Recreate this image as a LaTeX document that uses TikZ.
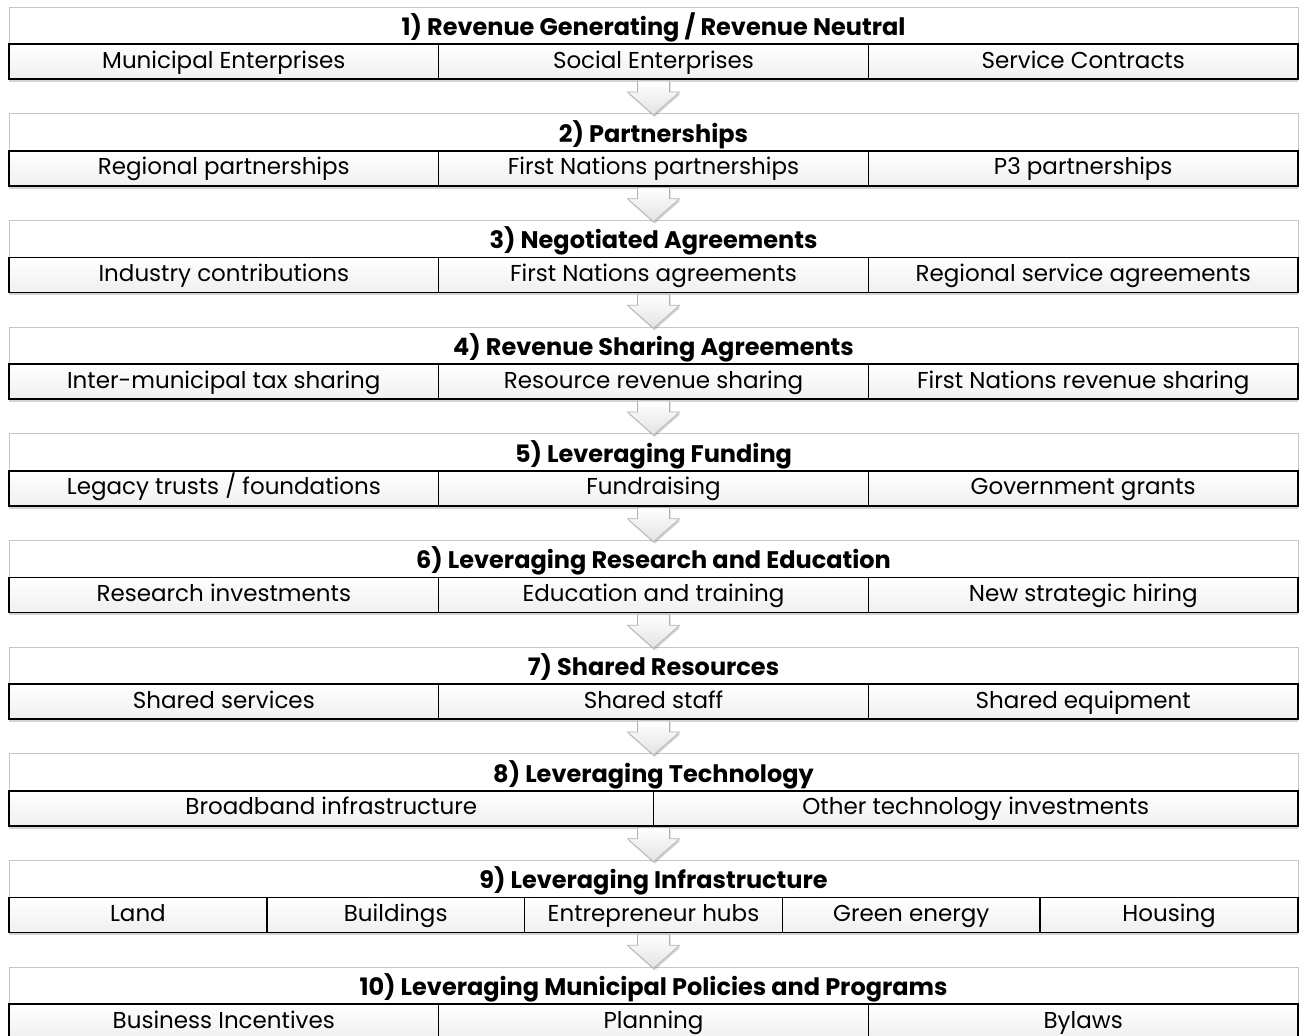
\documentclass[tikz,border=0pt]{standalone}
\usepackage{fontspec}
\setmainfont{Poppins}
\usetikzlibrary{shadows}

\begin{document}
\begin{tikzpicture}[x=1pt,y=-1pt,
  head/.style={rectangle, draw=gray!45, line width=0.8pt, fill=white,
    minimum width=1289pt, minimum height=37pt, inner sep=0pt,
    text height=21pt, text depth=1pt,
    font=\fontsize{24}{28}\selectfont\bfseries},
  part/.style={rectangle, draw=black, line width=1.6pt, top color=white,
    bottom color=gray!12, minimum height=35pt, inner sep=0pt,
    text height=16.5pt, text depth=3.5pt,
    drop shadow={shadow xshift=0pt, shadow yshift=-3pt, opacity=0.35},
    font=\fontsize{23}{27}\selectfont},
  third/.style={part, minimum width=429.7pt},
  half/.style={part, minimum width=644.5pt},
  fifth/.style={part, minimum width=257.8pt},
  blockarrow/.style={draw=gray!60, line width=0.7pt, top color=white,
    bottom color=gray!22,
    drop shadow={shadow xshift=1pt, shadow yshift=-2pt, opacity=0.35}}]

 \useasboundingbox (0,0) rectangle (1299,1036);

 % headers
 \node[head] (h1)  at (653.5,25.5)  {1) Revenue Generating / Revenue Neutral};
 \node[head] (h2)  at (653.5,132.2) {2) Partnerships};
 \node[head] (h3)  at (653.5,238.8) {3) Negotiated Agreements};
 \node[head] (h4)  at (653.5,345.5) {4) Revenue Sharing Agreements};
 \node[head] (h5)  at (653.5,452.2) {5) Leveraging Funding};
 \node[head] (h6)  at (653.5,558.8) {6) Leveraging Research and Education};
 \node[head] (h7)  at (653.5,665.5) {7) Shared Resources};
 \node[head] (h8)  at (653.5,772.2) {8) Leveraging Technology};
 \node[head] (h9)  at (653.5,878.8) {9) Leveraging Infrastructure};
 \node[head] (h10) at (653.5,985.5) {10) Leveraging Municipal Policies and Programs};

 % 1
 \node[third] (p1a) at (223.8,61.5)  {Municipal Enterprises};
 \node[third] (p1b) at (653.5,61.5)  {Social Enterprises};
 \node[third] (p1c) at (1083.2,61.5) {Service Contracts};
 % 2
 \node[third] (p2a) at (223.8,168.2)  {Regional partnerships};
 \node[third] (p2b) at (653.5,168.2)  {First Nations partnerships};
 \node[third] (p2c) at (1083.2,168.2) {P3 partnerships};
 % 3
 \node[third] (p3a) at (223.8,274.8)  {Industry contributions};
 \node[third] (p3b) at (653.5,274.8)  {First Nations agreements};
 \node[third] (p3c) at (1083.2,274.8) {Regional service agreements};
 % 4
 \node[third] (p4a) at (223.8,381.5)  {Inter-municipal tax sharing};
 \node[third] (p4b) at (653.5,381.5)  {Resource revenue sharing};
 \node[third] (p4c) at (1083.2,381.5) {First Nations revenue sharing};
 % 5
 \node[third] (p5a) at (223.8,488.2)  {Legacy trusts / foundations};
 \node[third] (p5b) at (653.5,488.2)  {Fundraising};
 \node[third] (p5c) at (1083.2,488.2) {Government grants};
 % 6
 \node[third] (p6a) at (223.8,594.8)  {Research investments};
 \node[third] (p6b) at (653.5,594.8)  {Education and training};
 \node[third] (p6c) at (1083.2,594.8) {New strategic hiring};
 % 7
 \node[third] (p7a) at (223.8,701.5)  {Shared services};
 \node[third] (p7b) at (653.5,701.5)  {Shared staff};
 \node[third] (p7c) at (1083.2,701.5) {Shared equipment};
 % 8
 \node[half] (p8a) at (331.3,808.2) {Broadband infrastructure};
 \node[half] (p8b) at (975.8,808.2) {Other technology investments};
 % 9
 \node[fifth] (p9a) at (137.9,914.8)  {Land};
 \node[fifth] (p9b) at (395.7,914.8)  {Buildings};
 \node[fifth] (p9c) at (653.5,914.8)  {Entrepreneur hubs};
 \node[fifth] (p9d) at (911.3,914.8)  {Green energy};
 \node[fifth] (p9e) at (1169.1,914.8) {Housing};
 % 10
 \node[third] (p10a) at (223.8,1021.5)  {Business Incentives};
 \node[third] (p10b) at (653.5,1021.5)  {Planning};
 \node[third] (p10c) at (1083.2,1021.5) {Bylaws};

 % arrows
 \coordinate (a1) at (653.5,81);
 \coordinate (a2) at (653.5,187.7);
 \coordinate (a3) at (653.5,294.3);
 \coordinate (a4) at (653.5,401);
 \coordinate (a5) at (653.5,507.7);
 \coordinate (a6) at (653.5,614.3);
 \coordinate (a7) at (653.5,721);
 \coordinate (a8) at (653.5,827.7);
 \coordinate (a9) at (653.5,934.3);

 \draw[blockarrow] (a1) ++(-16,0) -- ++(32,0) -- ++(0,11) -- ++(10,0) -- ++(-26,23) -- ++(-26,-23) -- ++(10,0) -- cycle;
 \draw[blockarrow] (a2) ++(-16,0) -- ++(32,0) -- ++(0,11) -- ++(10,0) -- ++(-26,23) -- ++(-26,-23) -- ++(10,0) -- cycle;
 \draw[blockarrow] (a3) ++(-16,0) -- ++(32,0) -- ++(0,11) -- ++(10,0) -- ++(-26,23) -- ++(-26,-23) -- ++(10,0) -- cycle;
 \draw[blockarrow] (a4) ++(-16,0) -- ++(32,0) -- ++(0,11) -- ++(10,0) -- ++(-26,23) -- ++(-26,-23) -- ++(10,0) -- cycle;
 \draw[blockarrow] (a5) ++(-16,0) -- ++(32,0) -- ++(0,11) -- ++(10,0) -- ++(-26,23) -- ++(-26,-23) -- ++(10,0) -- cycle;
 \draw[blockarrow] (a6) ++(-16,0) -- ++(32,0) -- ++(0,11) -- ++(10,0) -- ++(-26,23) -- ++(-26,-23) -- ++(10,0) -- cycle;
 \draw[blockarrow] (a7) ++(-16,0) -- ++(32,0) -- ++(0,11) -- ++(10,0) -- ++(-26,23) -- ++(-26,-23) -- ++(10,0) -- cycle;
 \draw[blockarrow] (a8) ++(-16,0) -- ++(32,0) -- ++(0,11) -- ++(10,0) -- ++(-26,23) -- ++(-26,-23) -- ++(10,0) -- cycle;
 \draw[blockarrow] (a9) ++(-16,0) -- ++(32,0) -- ++(0,11) -- ++(10,0) -- ++(-26,23) -- ++(-26,-23) -- ++(10,0) -- cycle;
\end{tikzpicture}
\end{document}
